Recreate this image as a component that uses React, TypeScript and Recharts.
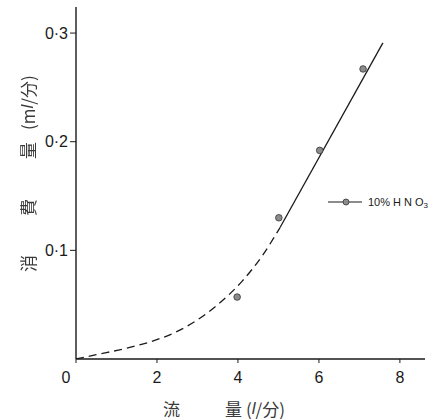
import React from 'react';
import { ComposedChart, Line, Scatter, XAxis, YAxis, Legend } from 'recharts';

// Axis ticks
const flowTicks = [0, 2, 4, 6, 8];
const consumptionTicks = [0.1, 0.2, 0.3];

// Measured points, 10% HNO3
const measuredFlow = [3.98, 5.01, 6.02, 7.09];
const measuredConsumption = [0.057, 0.13, 0.192, 0.267];

// Extrapolated low-flow curve (dashed)
const curveFlow = [0, 0.5, 1.2, 1.85, 2.45, 3.0, 3.5, 4.1, 4.6, 5.04];
const curveConsumption = [0, 0.004, 0.0095, 0.016, 0.0245, 0.036, 0.05, 0.0715, 0.095, 0.121];

// Linear fit (solid)
const fitFlow = [5.04, 7.58];
const fitConsumption = [0.121, 0.291];

const zip = (xs: number[], ys: number[]) => xs.map((x, i) => ({ x, y: ys[i] }));
const measured = zip(measuredFlow, measuredConsumption);
const curve = zip(curveFlow, curveConsumption);
const fit = zip(fitFlow, fitConsumption);

const INK = '#1a1a1a';
const TEXT = '#3a3a3a';
const NUM_FONT = '"Liberation Sans", Arial, sans-serif';
const CJK_FONT = '"Noto Sans CJK JP", "Noto Sans CJK SC", sans-serif';

const FlowTick = (props: any) => {
  const { x, y, payload } = props;
  const v = payload.value;
  return (
    <text
      x={v === 0 ? x - 10 : x}
      y={y + 12}
      textAnchor="middle"
      dominantBaseline="central"
      fontFamily={NUM_FONT}
      fontSize={16}
      fill={INK}
    >
      {String(v)}
    </text>
  );
};

const ConsumptionTick = (props: any) => {
  const { x, y, payload } = props;
  const s = Number(payload.value).toFixed(1).replace('.', '·');
  return (
    <text
      x={x}
      y={y}
      textAnchor="end"
      dominantBaseline="central"
      fontFamily={NUM_FONT}
      fontSize={16}
      fill={INK}
    >
      {s}
    </text>
  );
};

const XTitle = (props: any) => {
  const vb = props.viewBox || { x: 76, y: 359 };
  const y = vb.y + 49;
  return (
    <text y={y} dominantBaseline="central" fontFamily={CJK_FONT} fontSize={17} fill={TEXT}>
      <tspan x={vb.x + 87}>流</tspan>
      <tspan x={vb.x + 149}>量</tspan>
      <tspan dx={4}>(</tspan>
      <tspan fontStyle="italic" fontFamily={NUM_FONT}>l</tspan>
      <tspan>/分)</tspan>
    </text>
  );
};

const YTitle = (props: any) => {
  const vb = props.viewBox || { x: 16, y: 7 };
  const cx = vb.x + 11;
  return (
    <g>
      <defs>
        <filter id="title-mono" x="-10%" y="-10%" width="120%" height="120%">
          <feColorMatrix type="saturate" values="0" />
        </filter>
      </defs>
      <g filter="url(#title-mono)">
        <g transform={`translate(${cx},0) rotate(-90)`}>
          <text y={0} dominantBaseline="central" fontFamily={CJK_FONT} fontSize={17} fill={TEXT}>
            <tspan x={-272}>消</tspan>
            <tspan x={-216}>費</tspan>
            <tspan x={-159}>量</tspan>
            <tspan x={-130}>(m</tspan>
            <tspan fontStyle="italic" fontFamily={NUM_FONT}>l</tspan>
            <tspan>/分)</tspan>
          </text>
        </g>
      </g>
    </g>
  );
};

const Dot = (props: any) => {
  const { cx, cy } = props;
  return <circle cx={cx} cy={cy} r={3.3} fill="#8c8c8c" stroke="#333" strokeWidth={0.8} />;
};

const LegendContent = () => (
  <svg width={116} height={16} style={{ display: 'block', overflow: 'visible' }}>
    <line x1={3} y1={8} x2={37} y2={8} stroke={INK} strokeWidth={1.2} />
    <circle cx={21} cy={8} r={3} fill="#8c8c8c" stroke="#333" strokeWidth={0.8} />
    <text x={43} y={8} dominantBaseline="central" fontFamily={NUM_FONT} fontSize={11} fill={INK}>
      <tspan>10%</tspan>
      <tspan dx={3}>H</tspan>
      <tspan dx={3}>N</tspan>
      <tspan dx={3}>O</tspan>
      <tspan fontSize={8} dy={3}>3</tspan>
    </text>
  </svg>
);

export default function App() {
  return (
    <div style={{ position: 'absolute', left: 0, top: 0, width: 441, height: 420, background: '#fff' }}>
      <ComposedChart width={441} height={420} margin={{ top: 7, right: 16, bottom: 31, left: 16 }}>
        <XAxis
          dataKey="x"
          type="number"
          domain={[0, 8.62]}
          ticks={flowTicks}
          allowDataOverflow
          height={30}
          tickSize={4}
          axisLine={{ stroke: INK, strokeWidth: 1.4 }}
          tickLine={{ stroke: INK, strokeWidth: 1 }}
          tick={<FlowTick />}
          label={<XTitle />}
        />
        <YAxis
          type="number"
          domain={[0, 0.324]}
          ticks={consumptionTicks}
          allowDataOverflow
          width={60}
          tickSize={6}
          axisLine={{ stroke: INK, strokeWidth: 1.4 }}
          tickLine={{ stroke: INK, strokeWidth: 1 }}
          tick={<ConsumptionTick />}
          label={<YTitle />}
        />
        <Legend
          layout="horizontal"
          verticalAlign="middle"
          align="center"
          content={<LegendContent />}
          wrapperStyle={{ left: 325, top: 194, width: 116, height: 16 }}
        />
        <Line
          data={curve}
          dataKey="y"
          type="monotone"
          stroke={INK}
          strokeWidth={1.3}
          strokeDasharray="8 5"
          dot={false}
          activeDot={false}
          legendType="none"
          isAnimationActive={false}
        />
        <Line
          data={fit}
          dataKey="y"
          type="linear"
          stroke={INK}
          strokeWidth={1.3}
          dot={false}
          activeDot={false}
          legendType="none"
          isAnimationActive={false}
        />
        <Scatter
          name="10%HNO3"
          data={measured}
          dataKey="y"
          shape={<Dot />}
          isAnimationActive={false}
        />
      </ComposedChart>
    </div>
  );
}
